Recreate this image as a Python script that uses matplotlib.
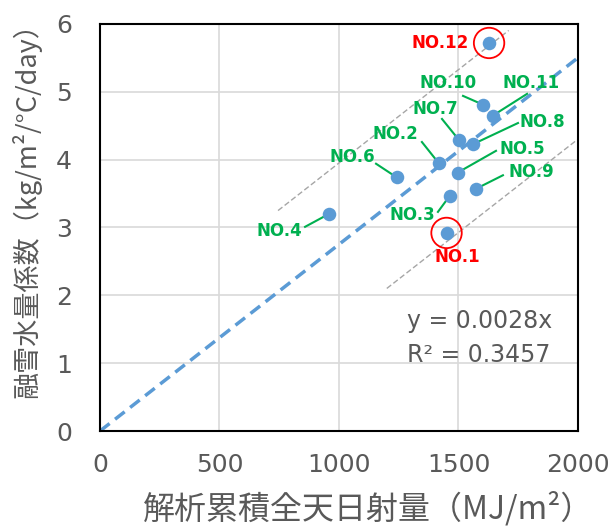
import numpy as np
import matplotlib
matplotlib.use("Agg")
import matplotlib.pyplot as plt

plt.rcParams['font.family'] = ['Noto Sans CJK JP', 'DejaVu Sans']

# 観測地点
labels = ['NO.1', 'NO.2', 'NO.3', 'NO.4', 'NO.5', 'NO.6',
          'NO.7', 'NO.8', 'NO.9', 'NO.10', 'NO.11', 'NO.12']
radiation = np.array([1450, 1417, 1464, 958, 1497, 1241,
                      1502, 1562, 1573, 1603, 1644, 1628])   # MJ/m2
coef = np.array([2.92, 3.95, 3.47, 3.20, 3.81, 3.74,
                 4.29, 4.23, 3.57, 4.81, 4.65, 5.72])       # kg/m2/C/day
outliers = ['NO.1', 'NO.12']

# ラベル位置 (text, leader start)
text_pos = {'NO.1': (1494, 2.57), 'NO.2': (1238, 4.38), 'NO.3': (1305, 3.18),
            'NO.4': (749, 2.95), 'NO.5': (1766, 4.16), 'NO.6': (1054, 4.04),
            'NO.7': (1402, 4.75), 'NO.8': (1849, 4.56), 'NO.9': (1803, 3.82),
            'NO.10': (1456, 5.13), 'NO.11': (1803, 5.13), 'NO.12': (1423, 5.72)}
lead_pos = {'NO.2': (1347, 4.26), 'NO.3': (1414, 3.23), 'NO.4': (858, 3.01),
            'NO.5': (1657, 4.13), 'NO.6': (1155, 3.94), 'NO.7': (1431, 4.60),
            'NO.8': (1749, 4.54), 'NO.9': (1686, 3.77), 'NO.10': (1519, 4.94),
            'NO.11': (1787, 4.97)}

blue = '#5B9BD5'
green = '#00B050'
grey = '#595959'

fig = plt.figure(figsize=(6.12, 5.26), dpi=100)
ax = fig.add_axes([0.1634, 0.1806, 0.781, 0.7738])

# 原点を通る回帰
slope = np.sum(radiation * coef) / np.sum(radiation ** 2)
xx = np.array([0, 2000])
ax.plot(xx, slope * xx, ls=(0, (3.5, 2)), color=blue, lw=2.5, zorder=2)

# ±幅の補助線
band = 1.2
xu = np.array([745, 1710])
xl = np.array([1200, 2000])
ax.plot(xu, slope * xu + band, ls=(0, (4, 2)), color='#A6A6A6', lw=1, zorder=2)
ax.plot(xl, slope * xl - band, ls=(0, (4, 2)), color='#A6A6A6', lw=1, zorder=2)

# 引き出し線
for lab, (sx, sy) in lead_pos.items():
    i = labels.index(lab)
    ax.plot([sx, radiation[i]], [sy, coef[i]], color=green, lw=1.5, zorder=3)

ax.scatter(radiation, coef, s=95, color=blue, zorder=4, linewidths=0)

for i, lab in enumerate(labels):
    c = 'red' if lab in outliers else green
    tx, ty = text_pos[lab]
    ax.text(tx, ty, lab, color=c, fontsize=12, fontweight='bold',
            family=['DejaVu Sans'], ha='center', va='center', zorder=5)
    if lab in outliers:
        ax.scatter(radiation[i], coef[i], s=480, facecolors='none',
                   edgecolors='red', linewidths=1.3, zorder=5)

ax.text(1285, 1.62, 'y = 0.0028x', color=grey, fontsize=17, family=['DejaVu Sans'],
        ha='left', va='center')
ax.text(1285, 1.12, 'R² = 0.3457', color=grey, fontsize=17, family=['DejaVu Sans'],
        ha='left', va='center')

ax.set_xlim(0, 2000)
ax.set_ylim(0, 6)
ax.set_xticks(np.arange(0, 2001, 500))
ax.set_yticks(np.arange(0, 7, 1))
ax.grid(True, color='#D9D9D9', lw=1.2)
ax.set_axisbelow(True)
for s in ax.spines.values():
    s.set_color('black')
    s.set_linewidth(1.5)
ax.tick_params(length=0, labelsize=18, labelcolor=grey)
ax.tick_params(axis='x', pad=16)
ax.tick_params(axis='y', pad=20)
for t in ax.get_xticklabels() + ax.get_yticklabels():
    t.set_family(['DejaVu Sans'])

ax.set_xlabel('解析累積全天日射量（MJ/m²）', fontsize=23, color=grey, va='center')
ax.set_ylabel('融雪水量係数（kg/m²/°C/day）', fontsize=19.5, color=grey, va='center')
ax.xaxis.set_label_coords(0.561, -0.189)
ax.yaxis.set_label_coords(-0.155, 0.56)

fig.savefig('out.png', dpi=100)
